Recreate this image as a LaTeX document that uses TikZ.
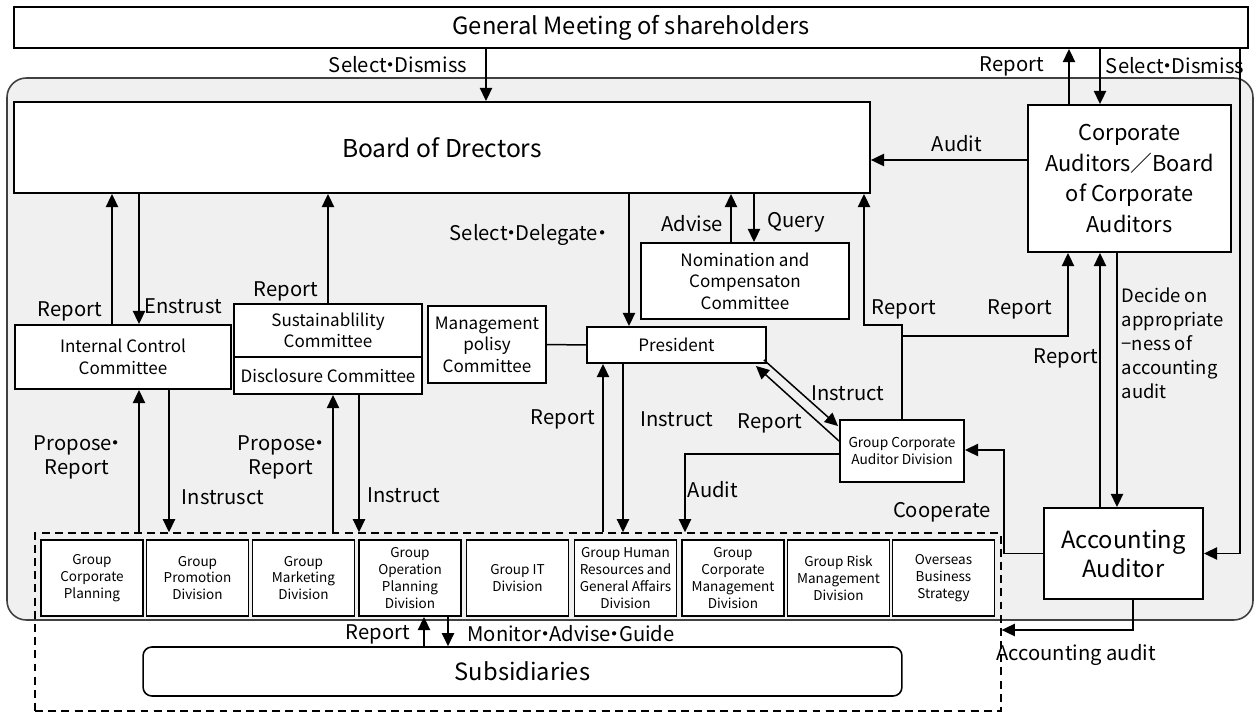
\documentclass[tikz,border=0pt]{standalone}
\usepackage{fontspec}
\setmainfont{Noto Sans CJK JP}
\usetikzlibrary{arrows.meta}
\definecolor{panelgray}{HTML}{F0F0F0}
\definecolor{paneledge}{HTML}{404040}
\newcommand\pdot{\kern-.3em・\kern-.3em}
\newcommand\bigtxt{\fontsize{13.5}{16.5}\selectfont}
\newcommand\audtxt{\fontsize{12.4}{17.6}\selectfont}
\newcommand\lbltxt{\fontsize{11.5}{13.6}\selectfont}
\newcommand\midtxt{\fontsize{9.7}{12.2}\selectfont}
\newcommand\smltxt{\fontsize{7.7}{9.6}\selectfont}
\tikzset{arr/.style = {-{Triangle[length=7.5pt,width=7pt]}},
         box/.style = {draw, fill=white, line width=1.1pt, inner sep=1pt, align=center},
         midbox/.style = {box, font=\midtxt},
         divbox/.style = {box, minimum width=2.04cm, minimum height=1.52cm, font=\smltxt},
         lbl/.style = {inner sep=0pt, font=\lbltxt, align=center}}

\begin{document}
\begin{tikzpicture}[x=0.02cm, y=-0.02cm, line width=0.85pt]
    \useasboundingbox (0,0) rectangle (1255,713);
    \draw [fill=panelgray, draw=paneledge, line width=0.9pt, rounded corners=11pt] (7,78) rectangle (1253,620);

    \node [box, minimum width=24.68cm, minimum height=0.82cm, font=\bigtxt] (gm) at (631,27.5) {General Meeting of shareholders};
    \node [box, minimum width=17.12cm, minimum height=1.82cm, font=\fontsize{14}{16.5}\selectfont] (board) at (442,147.5) {Board of Drectors};
    \node [box, minimum width=4.06cm, minimum height=2.94cm, font=\audtxt] (aud) at (1129.5,178.5) {Corporate\\Auditors／Board\\of Corporate\\Auditors};
    \node [midbox, minimum width=4.32cm, minimum height=1.28cm] (icc) at (123,357) {Internal Control\\Committee};
    \node [midbox, minimum width=3.76cm, minimum height=1.06cm] (sus) at (328,330.5) {Sustainablility\\Committee};
    \node [midbox, minimum width=3.76cm, minimum height=0.74cm] (dis) at (328,375.5) {Disclosure Committee};
    \node [midbox, minimum width=2.36cm, minimum height=1.54cm] (mpc) at (487,344.5) {Management\\polisy\\Committee};
    \node [midbox, minimum width=4.16cm, minimum height=1.52cm] (nom) at (745,281) {Nomination and\\Compensaton\\Committee};
    \node [midbox, minimum width=3.58cm, minimum height=0.72cm] (pres) at (676.5,345) {President};
    \node [box, minimum width=2.48cm, minimum height=1.24cm, font=\fontsize{7.8}{10}\selectfont] (gcad) at (902,451) {Group Corporate\\Auditor Division};
    \node [box, minimum width=3.18cm, minimum height=1.82cm, font=\fontsize{13.5}{16.5}\selectfont] (aa) at (1123.5,553.5) {Accounting\\Auditor};
    \node [draw, dash pattern=on 4.5pt off 3pt, minimum width=19.32cm, minimum height=3.56cm] (grp) at (518,622) {};
    \node [box, rounded corners=5pt, line width=0.9pt, minimum width=15.18cm, minimum height=0.98cm, font=\bigtxt] (subs) at (522.5,671.5) {Subsidiaries};

    \foreach \name/\cx/\txt in {gcp/92/{Group\\Corporate\\Planning}, gpd/197.5/{Group\\Promotion\\Division},
            gmd/303.5/{Group\\Marketing\\Division}, gopd/410/{Group\\Operation\\Planning\\Division},
            gitd/517.5/{Group IT\\Division}, ghrd/625.5/{Group Human\\Resources and\\General Affairs\\Division},
            gcmd/733/{Group\\Corporate\\Management\\Division}, grmd/838.5/{Group Risk\\Management\\Division},
            obs/943.5/{Overseas\\Business\\Strategy}}
        \node [divbox] (\name) at (\cx,578) {\txt};

    % top level
    \draw [arr] (gm.south -| 486,0) -- (board.north -| 486,0);
    \draw [arr] (aud.north -| 1069,0) -- (gm.south -| 1069,0);
    \draw [arr] (gm.south -| 1100,0) -- (aud.north -| 1100,0);
    \draw [arr] (aud.west |- 0,160) -- (board.east |- 0,160);
    \draw [arr] (gm.south -| 1240,0) |- (aa.east);

    % board and committees
    \draw [arr] (icc.north -| 112,0) -- (board.south -| 112,0);
    \draw [arr] (board.south -| 139,0) -- (icc.north -| 139,0);
    \draw [arr] (sus.north) -- (board.south -| sus.north);
    \draw [arr] (board.south -| 629,0) -- (pres.north -| 629,0);
    \draw (mpc.east) -- (pres.west);
    \draw [arr] (nom.north -| 731,0) -- (board.south -| 731,0);
    \draw [arr] (board.south -| 754,0) -- (nom.north -| 754,0);

    % auditor division
    \draw [arr] (gcad.north) |- (864,325) -- (board.south -| 864,0);
    \draw [arr] (gcad.north |- 0,336) -| (aud.south -| 1068,0);
    \draw [arr] ([shift={(-3,-4)}]pres.south east) -- ([shift={(-1,7)}]gcad.north west);
    \draw [arr] ([shift={(0,22)}]gcad.north west) -- ([shift={(-11,2)}]pres.south east);
    \draw [arr] (gcad.west |- 0,454) -| (grp.north -| 685,0);
    \draw [arr] (aa.west) -| (1004,450) -- (gcad.east |- 0,450);
    \draw [arr] (aud.south -| 1117,0) -- (aa.north -| 1117,0);
    \draw [arr] (aa.north -| 1100,0) -- (aud.south -| 1100,0);
    \draw [arr] (aa.south -| 1133,0) |- (grp.east |- 0,630);

    % divisions
    \draw [arr] (grp.north -| 139,0) -- (icc.south -| 139,0);
    \draw [arr] (icc.south -| 169,0) -- (grp.north -| 169,0);
    \draw [arr] (grp.north -| 333,0) -- (dis.south -| 333,0);
    \draw [arr] (dis.south -| 359,0) -- (grp.north -| 359,0);
    \draw [arr] (grp.north -| 603,0) -- (pres.south -| 603,0);
    \draw [arr] (pres.south -| 623,0) -- (grp.north -| 623,0);
    \draw [arr] (subs.north -| 424,0) -- (gopd.south -| 424,0);
    \draw [arr] (gopd.south -| 448,0) -- (subs.north -| 448,0);

    % labels
    \node [lbl] (lsd1) at (398,65) {Select\pdot Dismiss};
    \node [lbl] (lrep1) at (1012,66) {Report};
    \node [lbl] (lsd2) at (1175,66) {Select\pdot Dismiss};
    \node [lbl] (laud1) at (957,144) {Audit};
    \node [lbl] (lrep2) at (70,311) {Report};
    \node [lbl] (lent) at (183,306) {Enstrust};
    \node [lbl] (lrep3) at (286,291) {Report};
    \node [lbl] (lsel) at (528,235) {Select\pdot Delegate\pdot};
    \node [lbl] (ladv) at (692,224) {Advise};
    \node [lbl] (lqry) at (796,222) {Query};
    \node [lbl] (lrep4) at (904,309) {Report};
    \node [lbl] (lrep5) at (1020,309) {Report};
    \node [lbl] (lrep6) at (1066,358) {Report};
    \node [lbl, anchor=north west, align=left, font=\fontsize{10.5}{13.6}\selectfont] (ldec) at (1121,287) {Decide on\\appropriate\\−ness of\\accounting\\audit};
    \node [lbl] (lins1) at (848,393) {Instruct};
    \node [lbl] (lrep7) at (770,423) {Report};
    \node [lbl] (lpr1) at (77,457) {Propose\pdot\\Report};
    \node [lbl] (lpr2) at (281,457) {Propose\pdot\\Report};
    \node [lbl] (lins2) at (223,497) {Instrusct};
    \node [lbl] (lins3) at (404,495) {Instruct};
    \node [lbl] (lrep8) at (563,419) {Report};
    \node [lbl] (lins4) at (677,419) {Instruct};
    \node [lbl] (laud2) at (713,490) {Audit};
    \node [lbl] (lcoop) at (942,512) {Cooperate};
    \node [lbl] (lacc) at (1076,655) {Accounting audit};
    \node [lbl] (lrep9) at (378,634) {Report};
    \node [lbl] (lmon) at (571,634) {Monitor\pdot Advise\pdot Guide};
\end{tikzpicture}
\end{document}
